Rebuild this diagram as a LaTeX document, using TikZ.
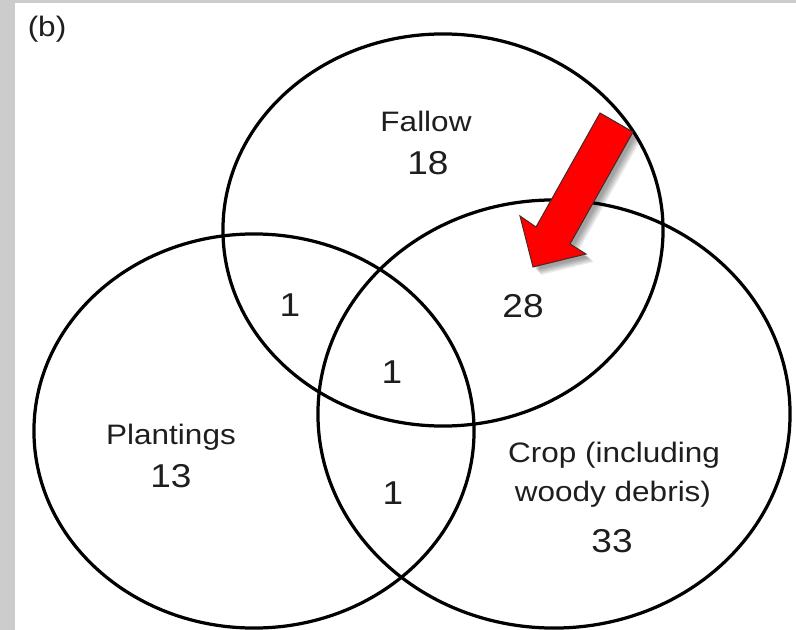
\documentclass[tikz,border=0pt]{standalone}
\usepackage{fontspec}
\setmainfont{Liberation Sans}
\definecolor{vnframe}{RGB}{204,204,204}
\definecolor{vnred}{RGB}{255,0,0}
\definecolor{vnedge}{RGB}{70,40,40}
\definecolor{vntext}{RGB}{30,30,30}
\usetikzlibrary{positioning}

\begin{document}
\begin{tikzpicture}[x=0.025cm, y=-0.025cm,
  set/.style={draw=black, line width=2.3pt},
  lbl/.style={font=\fontsize{20}{24}\selectfont, text=vntext, xscale=1.12, transform shape},
  num/.style={font=\fontsize{23.5}{28}\selectfont, text=vntext, xscale=1.12, transform shape},
  pointer/.style={draw=vnedge, line width=0.7pt, fill=vnred}
]
\useasboundingbox (0,0) rectangle (796,630);
% frame
\fill[vnframe] (0,0) rectangle (796,630);
\fill[white] (15,3) rectangle (796,630);
\node[lbl] (panel) at (47,29) {(b)};

% the three sets
\draw[set] (443,230) ellipse [x radius=5.5cm, y radius=4.9cm];
\draw[set] (254,431) ellipse [x radius=5.5cm, y radius=4.925cm];
\draw[set] (554,414) ellipse [x radius=5.9cm, y radius=5.35cm];

\node[lbl] (fallow) at (426,121) {Fallow};
\node[num] (nfallow) at (428,163) {18};
\node[lbl] (plant) at (171,437) {Plantings};
\node[num] (nplant) at (171,476) {13};
\node[lbl] (crop) at (614,455) {Crop (including};
\node[lbl] (woody) at (613,494) {woody debris)};
\node[num] (ncrop) at (612,541) {33};

% overlaps
\node[num] (nfp) at (290,305) {1};
\node[num] (nfc) at (523,306) {28};
\node[num] (nall) at (392,372) {1};
\node[num] (npc) at (393,493) {1};

% pointer with soft shadow
\foreach \s in {1,...,6}
  \fill[black, opacity=0.07, shift={(2+\s,2+\s)}]
    (600,113) -- (633,132) -- (570,244) -- (586,254) -- (533,267) -- (520,216) -- (536,227) -- cycle;
\draw[pointer] (600,113) -- (633,132) -- (570,244) -- (586,254) -- (533,267) -- (520,216) -- (536,227) -- cycle;
\end{tikzpicture}
\end{document}
